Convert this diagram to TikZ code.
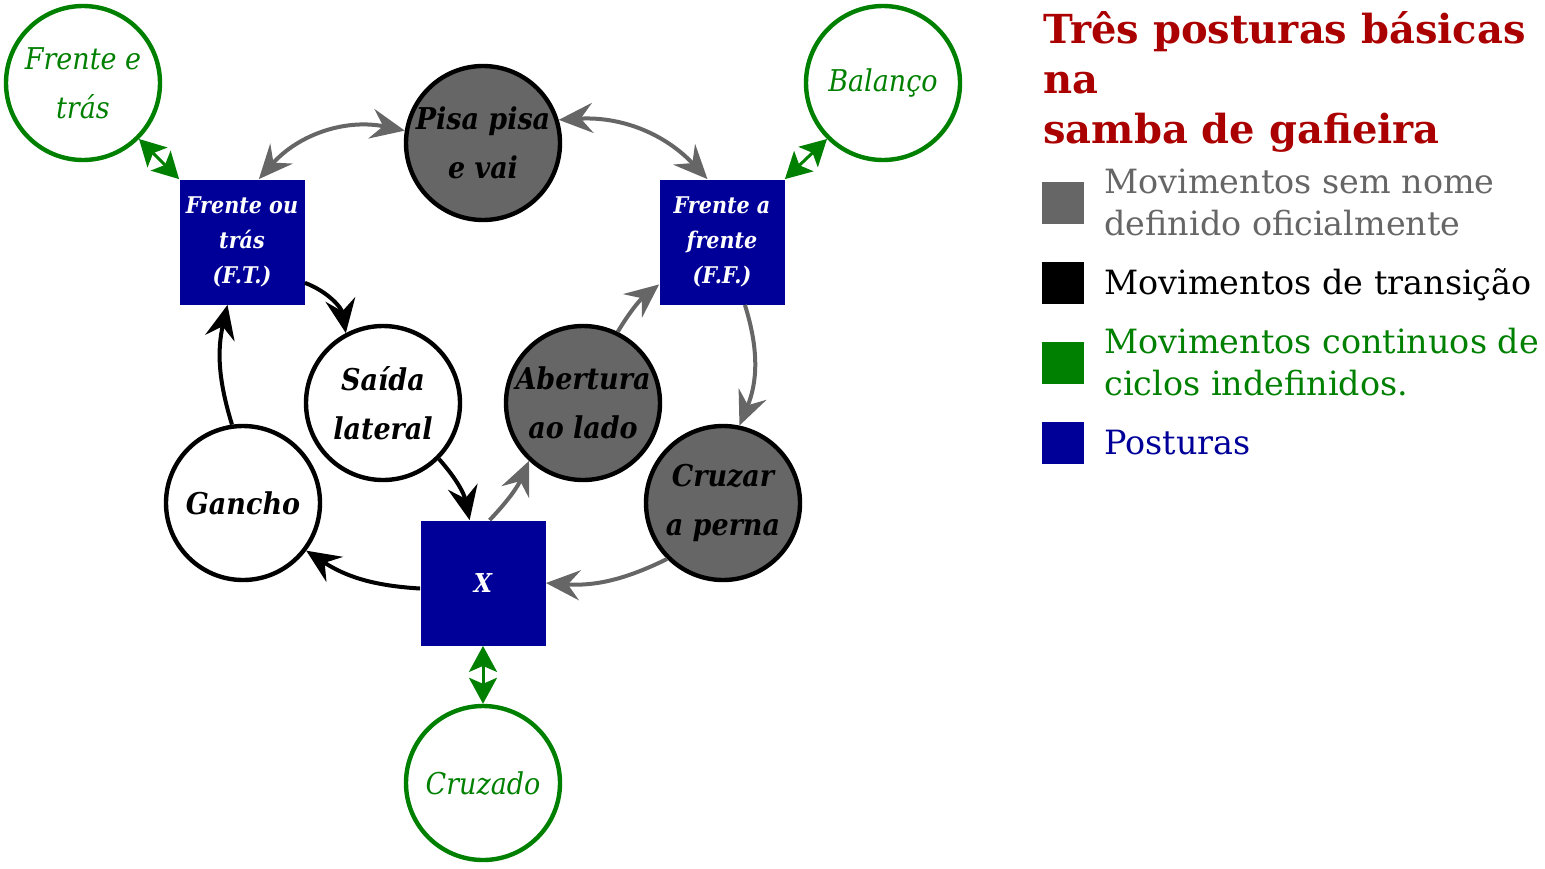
\documentclass[tikz,border=0pt]{standalone}
\usepackage{fontspec}
\setmainfont{DejaVu Serif}
\newfontfamily\handfont{DejaVu Serif Condensed}
\usetikzlibrary{arrows.meta}
\definecolor{postura}{RGB}{0,0,153}
\definecolor{semnome}{RGB}{102,102,102}
\definecolor{continuo}{RGB}{0,128,0}
\definecolor{titulo}{RGB}{170,0,0}
\begin{document}
\begin{tikzpicture}[x=0.5pt, y=-0.5pt,
    mov/.style={circle, draw, line width=2.2pt, minimum size=77pt, inner sep=0pt, align=center,
        font=\handfont\bfseries\itshape\fontsize{15}{24.5}\selectfont},
    cinza/.style={mov, fill=semnome},
    branco/.style={mov, fill=white},
    ciclo/.style={mov, draw=continuo, text=continuo, font=\handfont\itshape\fontsize{15}{24.5}\selectfont},
    postbox/.style={rectangle, fill=postura, text=white, minimum size=62.5pt, inner sep=0pt, align=center,
        font=\handfont\bfseries\itshape\fontsize{11.5}{17.5}\selectfont},
    seta/.style={line width=2pt, -{Stealth[length=17pt, width=15pt, inset=6pt]}},
    setadupla/.style={line width=2pt, {Stealth[length=17pt, width=15pt, inset=6pt]}-{Stealth[length=17pt, width=15pt, inset=6pt]}},
    setacinza/.style={seta, semnome},
    setapreta/.style={seta, black},
    setaverde/.style={line width=1.5pt, continuo, {Stealth[length=13pt, width=14pt, inset=3pt]}-{Stealth[length=13pt, width=14pt, inset=3pt]}},
    quad/.style={rectangle, minimum size=21pt, inner sep=0pt},
    leg/.style={anchor=base west, inner sep=0pt, align=left, font=\fontsize{16.7}{21}\selectfont}]
    \useasboundingbox (0,0) rectangle (1545,868);

    \node[ciclo] (frentetras) at (83, 83) {Frente e\\trás};
    \node[ciclo] (balanco) at (883, 83) {Balanço};
    \node[ciclo] (cruzado) at (483, 783) {Cruzado};

    \node[cinza] (pisa) at (483, 143) {Pisa pisa\\e vai};
    \node[cinza] (abertura) at (583, 403) {Abertura\\ao lado};
    \node[cinza] (cruzar) at (723, 503) {Cruzar\\a perna};
    \node[branco] (saida) at (383, 403) {Saída\\lateral};
    \node[branco] (gancho) at (243, 503) {Gancho};

    \node[postbox] (ft) at (242, 242) {Frente ou\\trás\\(F.T.)};
    \node[postbox] (ff) at (722, 242) {Frente a\\frente\\(F.F.)};
    \node[postbox, font=\handfont\bfseries\itshape\fontsize{13}{17.5}\selectfont] (x) at (483, 583) {X};

    \draw[setadupla, semnome] (ft.75) to[bend left=30] (pisa.171);
    \draw[setadupla, semnome] (pisa.17) to[bend left=25] (ff.103);
    \draw[setacinza] (ff.-70) to[bend left=20] (cruzar.78);
    \draw[setacinza] (cruzar.225) to[bend left=15] (x.east);
    \draw[setacinza] (x.84) to[bend right=10] (abertura.227);
    \draw[setacinza] (abertura.64) to[bend left=10] (ff.214);

    \draw[setapreta] (x.185) to[bend left=15] (gancho.-37);
    \draw[setapreta] (gancho.98) to[bend left=15] (ft.257);
    \draw[setapreta] (ft.-33) to[bend left=30] (saida.118);
    \draw[setapreta] (saida.-45) to[bend left=15] (x.102);

    \draw[setaverde] (frentetras.-45) -- (ft.north west);
    \draw[setaverde] (balanco.225) -- (ff.north east);
    \draw[setaverde] (x.south) -- (cruzado.north);

    % legenda
    \node[anchor=base west, inner sep=0pt, align=left, text=titulo, font=\bfseries\fontsize{20}{25}\selectfont]
        (titulo) at (1043, 143) {Três posturas básicas\\na\\samba de gafieira};
    \node[quad, fill=semnome] (qcinza) at (1063, 203) {};
    \node[quad, fill=black] (qpreto) at (1063, 283) {};
    \node[quad, fill=continuo] (qverde) at (1063, 363) {};
    \node[quad, fill=postura] (qazul) at (1063, 443) {};
    \node[leg, text=semnome] (lcinza) at (1104, 235) {Movimentos sem nome\\definido oficialmente};
    \node[leg, text=black] (lpreto) at (1104, 294) {Movimentos de transição};
    \node[leg, text=continuo] (lverde) at (1104, 395) {Movimentos continuos de\\ciclos indefinidos.};
    \node[leg, text=postura] (lazul) at (1104, 454) {Posturas};
\end{tikzpicture}
\end{document}
